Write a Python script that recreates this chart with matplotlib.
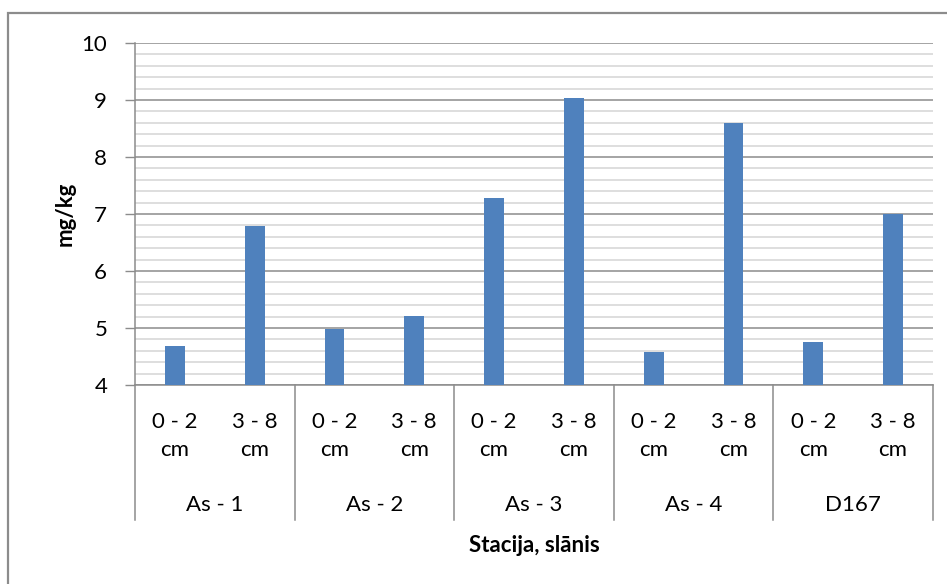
import matplotlib.pyplot as plt
import matplotlib.patches as patches
import numpy as np

plt.rcParams['font.family'] = ['Lato', 'DejaVu Sans']

# Stacijas un slāņi
stacijas = ['As - 1', 'As - 2', 'As - 3', 'As - 4', 'D167']
slani = ['0 - 2\ncm', '3 - 8\ncm']
vertibas = [4.68, 6.79, 4.98, 5.21, 7.28, 9.04, 4.58, 8.60, 4.75, 7.00]

W, H = 947, 584
fig = plt.figure(figsize=(W / 100, H / 100), dpi=100)
ax = fig.add_axes([135 / W, 1 - 385 / H, (933 - 135) / W, (385 - 43) / H])

x = np.arange(len(vertibas))
ax.bar(x, np.array(vertibas) - 4, bottom=4, width=0.25, color='#4F81BD', zorder=3)

ax.set_xlim(-0.5, len(vertibas) - 0.5)
ax.set_ylim(4, 10)
ax.set_yticks(np.arange(4, 11, 1))
ax.set_yticks(np.arange(4, 10.01, 0.2), minor=True)
ax.grid(axis='y', which='minor', color='#d4d4d4', linewidth=1.1, zorder=0)
ax.grid(axis='y', which='major', color='#8c8c8c', linewidth=1.1, zorder=1)
ax.tick_params(axis='y', which='major', length=7, width=1, color='#8c8c8c',
               labelsize=16, pad=13)
ax.tick_params(axis='y', which='minor', length=0)
ax.tick_params(axis='x', length=0, labelbottom=False)
for s in ['top', 'right']:
    ax.spines[s].set_visible(False)
for s in ['left', 'bottom']:
    ax.spines[s].set_color('#8c8c8c')
    ax.spines[s].set_linewidth(1.1)

tr = ax.get_xaxis_transform()
# slāņu nosaukumi
for i in x:
    ax.text(i, -0.148, slani[i % 2], transform=tr, ha='center', va='center',
            fontsize=16, linespacing=1.5)
# staciju nosaukumi un atdalītāji
for g, st in enumerate(stacijas):
    ax.text(2 * g + 0.5, -0.352, st, transform=tr, ha='center', va='center', fontsize=16)
for b in np.arange(-0.5, len(vertibas), 2):
    ax.plot([b, b], [0, -0.395], transform=tr, color='#8c8c8c', lw=1.1, clip_on=False)

ax.text(0.5, -0.47, 'Stacija, slānis', transform=ax.transAxes, ha='center', va='center',
        fontsize=16, fontweight='bold')
ax.text(-0.088, 0.5, 'mg/kg', transform=ax.transAxes, ha='center', va='center',
        fontsize=16, fontweight='bold', rotation=90)

# diagrammas rāmis
fig.patches.append(patches.Rectangle((8 / W, -0.1), 1.1, 1 - 13 / H + 0.1,
                                     transform=fig.transFigure, fill=False,
                                     edgecolor='#8c8c8c', linewidth=1.6))

fig.savefig('out.png', dpi=100)
